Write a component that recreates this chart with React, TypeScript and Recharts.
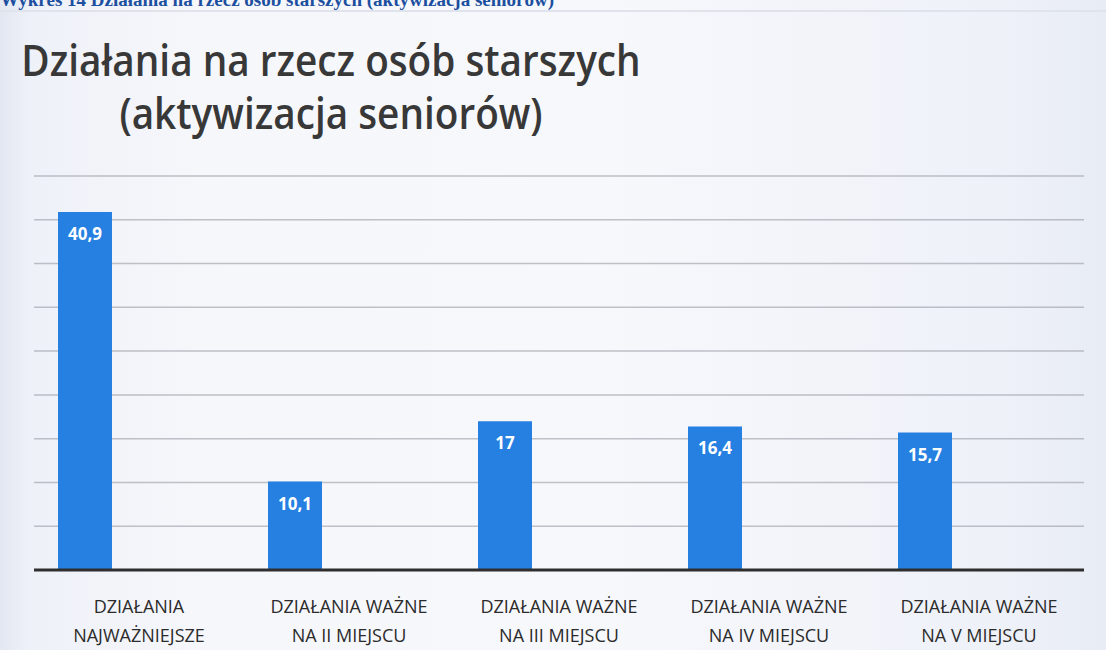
import React from "react";
import { BarChart, Bar, XAxis, YAxis, CartesianGrid, LabelList } from "recharts";

const pageHeading = "Wykres 14 Działania na rzecz osób starszych (aktywizacja seniorów)";
const titleLines = ["Działania na rzecz osób starszych", "(aktywizacja seniorów)"];
const categoryLine1 = ["DZIAŁANIA", "DZIAŁANIA WAŻNE", "DZIAŁANIA WAŻNE", "DZIAŁANIA WAŻNE", "DZIAŁANIA WAŻNE"];
const categoryLine2 = ["NAJWAŻNIEJSZE", "NA II MIEJSCU", "NA III MIEJSCU", "NA IV MIEJSCU", "NA V MIEJSCU"];
const values = [40.9, 10.1, 17, 16.4, 15.7];
const yTicks = [0, 5, 10, 15, 20, 25, 30, 35, 40, 45];

const data = categoryLine1.map((c, i) => ({ name: String(i), value: values[i] }));

const fmt = (v: number) => String(v).replace(".", ",");

const Tick = (props: any) => {
  const { x, y, payload } = props;
  const i = Number(payload.value);
  return (
    <g>
      <text x={x} y={y + 35} textAnchor="middle" fontFamily="Open Sans" fontSize={18} fill="#2b2b2b">
        {categoryLine1[i]}
      </text>
      <text x={x} y={y + 64} textAnchor="middle" fontFamily="Open Sans" fontSize={18} fill="#2b2b2b">
        {categoryLine2[i]}
      </text>
    </g>
  );
};

const ValueLabel = (props: any) => {
  const { x, y, width, value } = props;
  if (value === undefined || value === null) return null;
  return (
    <text x={x + width / 2} y={y + 28} textAnchor="middle" fontFamily="Open Sans" fontWeight={700} fontSize={17} fill="#ffffff">
      {fmt(value)}
    </text>
  );
};

export default function App() {
  return (
    <div
      style={{
        position: "absolute",
        left: 0,
        top: 0,
        width: 1106,
        height: 650,
        overflow: "hidden",
        background: "linear-gradient(to right, #e3e7f1 0px, #eef1f8 30px, #f6f7fb 200px, #f7f8fc 600px, #eef1f8 1000px, #e8ecf5 1106px)",
      }}
    >
      <div
        style={{
          position: "absolute",
          left: 0,
          top: -11,
          fontFamily: "Liberation Serif",
          fontWeight: 700,
          fontSize: 19,
          color: "#1c4f9f",
          whiteSpace: "nowrap",
        }}
      >
        {pageHeading}
      </div>
      <div style={{ position: "absolute", left: 0, top: 10, width: 1106, height: 2, background: "#dfe3ec" }} />
      <div
        style={{
          position: "absolute",
          left: -169,
          width: 1000,
          top: 33,
          textAlign: "center",
          whiteSpace: "nowrap",
          fontFamily: "Open Sans",
          fontSize: 44,
          fontWeight: 600,
          lineHeight: "53px",
          color: "#383838",
          transform: "scaleX(0.88)",
          transformOrigin: "500px 0px",
        }}
      >
        <div>{titleLines[0]}</div>
        <div>{titleLines[1]}</div>
      </div>
      <div style={{ position: "absolute", left: 0, top: 0 }}>
        <BarChart
          width={1106}
          height={650}
          data={data}
          margin={{ top: 176, right: 22, left: 34, bottom: 10 }}
          barCategoryGap={24}
          barGap={0}
        >
          <CartesianGrid horizontal={true} vertical={false} stroke="#8f949c" strokeOpacity={0.55} strokeWidth={1.5} />
          <YAxis hide domain={[0, 45]} ticks={yTicks} />
          <XAxis
            dataKey="name"
            height={70}
            axisLine={{ stroke: "#2e2e2e", strokeWidth: 3 }}
            tickLine={false}
            tick={<Tick />}
            interval={0}
          />
          <Bar dataKey="value" fill="#2680e2" isAnimationActive={false}>
            <LabelList dataKey="value" content={<ValueLabel />} />
          </Bar>
          <Bar dataKey="empty2" fill="#c0504d" isAnimationActive={false} />
          <Bar dataKey="empty3" fill="#9bbb59" isAnimationActive={false} />
        </BarChart>
      </div>
    </div>
  );
}
